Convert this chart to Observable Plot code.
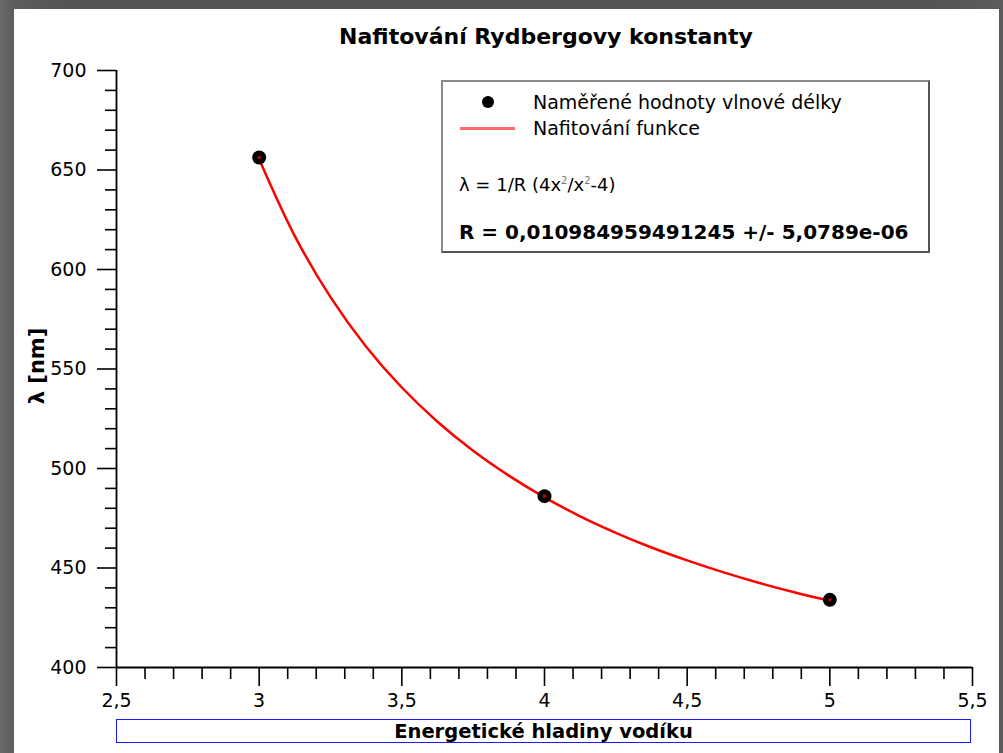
<!DOCTYPE html>
<html>
<head>
<meta charset="utf-8">
<script src="https://cdn.jsdelivr.net/npm/d3@7"></script>
<script src="https://cdn.jsdelivr.net/npm/@observablehq/plot@0.6"></script>
<style>
  html, body { margin: 0; padding: 0; }
  body {
    width: 1003px; height: 753px; overflow: hidden; position: relative;
    background: linear-gradient(90deg, #6a6a6a 0px, #5c5c5c 14px, #555 60px, #555 940px, #5c5c5c 1003px);
    font-family: "DejaVu Sans", sans-serif; color: #000;
  }
  #panel { position: absolute; left: 14px; top: 9px; width: 985px; height: 744px; background: #fff; }
  #chart { position: absolute; left: 0; top: 0; }
  .abs { position: absolute; white-space: nowrap; line-height: 1; }
  #title { left: 0; width: 1092px; text-align: center; top: 26px; font-size: 22px; font-weight: bold; }
  #ylabel { left: 37px; top: 366px; transform: translate(-50%, -50%) rotate(-90deg); font-size: 21px; font-weight: bold; }
  #xlabel { left: 116px; top: 719px; width: 853px; height: 22px; border: 1.5px solid #1a1aff; text-align: center; font-size: 19.5px; font-weight: bold; line-height: 24px; }
  #legend { left: 441px; top: 80px; width: 485px; height: 169px; border: 2px solid #8a8a8a; border-right-color: #555; border-bottom-color: #555; background: #fff; }
  .lt { font-size: 19px; }
</style>
</head>
<body>
<div id="panel"></div>
<div id="chart"></div>
<div class="abs" id="title">Nafitování Rydbergovy konstanty</div>
<div class="abs" id="ylabel">λ [nm]</div>
<div class="abs" id="xlabel">Energetické hladiny vodíku</div>
<div class="abs" id="legend">
  <div class="abs" style="left:39px;top:14px;width:12px;height:12px;border-radius:50%;background:#000;"></div>
  <div class="abs lt" style="left:90px;top:11px;">Naměřené hodnoty vlnové délky</div>
  <div class="abs" style="left:17px;top:45px;width:55px;height:3px;background:#ff6a6a;"></div>
  <div class="abs lt" style="left:90px;top:37px;">Nafitování funkce</div>
  <div class="abs lt" style="left:16px;top:94px;font-size:18px;">λ = 1/R (4x<sup style="font-size:10px;color:#777;">2</sup>/x<sup style="font-size:10px;color:#777;">2</sup>-4)</div>
  <div class="abs" style="left:16px;top:140px;font-size:20px;font-weight:bold;">R = 0,010984959491245 +/- 5,0789e-06</div>
</div>
<script>
// Measured data (energy level n, wavelength in nm)
const levels = [3, 4, 5];
const wavelengths = [656.3, 486.1, 434.0];

// Fitted curve
const fitX = [3, 3.125, 3.25, 3.375, 3.5, 3.625, 3.75, 3.875, 4, 4.125, 4.25, 4.375, 4.5, 4.625, 4.75, 4.875, 5];
const fitY = [655.4, 616.8, 586.1, 561.2, 540.7, 523.5, 508.9, 496.4, 485.5, 476.0, 467.7, 460.3, 453.8, 447.9, 442.6, 437.8, 433.5];

// Tick values
const xMajor = [2.5, 3, 3.5, 4, 4.5, 5, 5.5];
const xMinor = [2.6, 2.7, 2.8, 2.9, 3.1, 3.2, 3.3, 3.4, 3.6, 3.7, 3.8, 3.9, 4.1, 4.2, 4.3, 4.4, 4.6, 4.7, 4.8, 4.9, 5.1, 5.2, 5.3, 5.4];
const yMajor = [400, 450, 500, 550, 600, 650, 700];
const yMinor = [410, 420, 430, 440, 460, 470, 480, 490, 510, 520, 530, 540, 560, 570, 580, 590, 610, 620, 630, 640, 660, 670, 680, 690];

const points = levels.map((n, i) => ({n, lambda: wavelengths[i]}));
const fit = fitX.map((n, i) => ({n, lambda: fitY[i]}));
const fmt = d => String(d).replace(".", ",");

const chart = Plot.plot({
  width: 1003,
  height: 753,
  marginLeft: 116,
  marginRight: 31,
  marginTop: 70,
  marginBottom: 86,
  style: { background: "transparent", fontFamily: "DejaVu Sans, sans-serif", color: "#000" },
  x: { domain: [2.5, 5.5] },
  y: { domain: [400, 700] },
  marks: [
    Plot.axisY({ ticks: yMajor, tickSize: 19, tickPadding: 11, tickFormat: fmt, fontSize: 19, label: null, strokeWidth: 1.6 }),
    Plot.axisY({ ticks: yMinor, tickSize: 11, tickFormat: () => "", label: null, strokeWidth: 1.6 }),
    Plot.axisX({ ticks: xMajor, tickSize: 19, tickPadding: 7, tickFormat: fmt, fontSize: 19, label: null, strokeWidth: 1.6 }),
    Plot.axisX({ ticks: xMinor, tickSize: 12, tickFormat: () => "", label: null, strokeWidth: 1.6 }),
    Plot.ruleX([2.5], { stroke: "#000", strokeWidth: 1.8 }),
    Plot.ruleY([400], { stroke: "#000", strokeWidth: 1.8 }),
    Plot.line(fit, { x: "n", y: "lambda", stroke: "#ff0000", strokeWidth: 2.5, curve: "catmull-rom" }),
    Plot.dot(points, { x: "n", y: "lambda", r: 7, fill: "#000", stroke: "none" }),
    Plot.dot(points, { x: "n", y: "lambda", r: 1.8, fill: "#c00000", stroke: "none" })
  ]
});
document.getElementById("chart").appendChild(chart);
</script>
</body>
</html>
